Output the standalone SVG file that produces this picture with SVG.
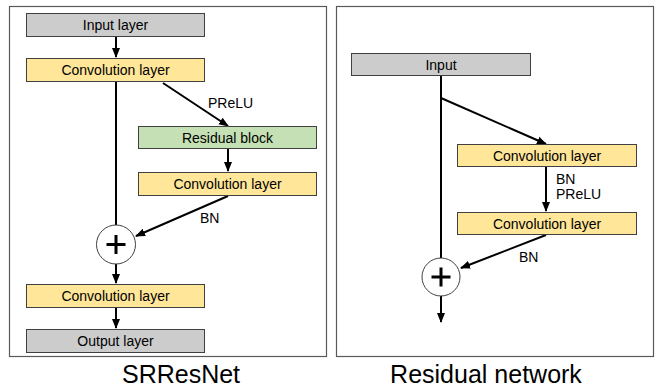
<svg xmlns="http://www.w3.org/2000/svg" width="660" height="387" viewBox="0 0 660 387">
<defs>
<marker id="ah" viewBox="0 0 10 10" refX="9" refY="5" markerWidth="5" markerHeight="5" orient="auto">
<path d="M0,1 L10,5 L0,9 z" fill="#000"/>
</marker>
<style>
.panel{fill:#fff;stroke:#595959;stroke-width:1.2}
.box{stroke:#404040;stroke-width:1}
.grey{fill:#cccccc}
.yellow{fill:#ffe699}
.green{fill:#c5e0b4}
.lbl{font-family:"Liberation Sans",Arial,sans-serif;font-size:14px;fill:#000;text-anchor:middle}
.ann{font-family:"Liberation Sans",Arial,sans-serif;font-size:14px;fill:#000}
.title{font-family:"Liberation Sans",Arial,sans-serif;font-size:25px;fill:#000;text-anchor:middle}
.ln{stroke:#000;stroke-width:2;fill:none}
.circ{fill:#fff;stroke:#404040;stroke-width:1}
.plus{stroke:#000;stroke-width:3}
</style>
</defs>
<rect width="660" height="387" fill="#fff"/>
<rect class="panel" x="9.5" y="6.5" width="317" height="350"/>
<rect class="panel" x="336.5" y="6.5" width="317" height="350"/>

<g id="connectors">
<line class="ln" x1="116" y1="37" x2="116" y2="57" marker-end="url(#ah)"/>
<line class="ln" x1="116" y1="82" x2="116" y2="225"/>
<line class="ln" x1="163" y1="83" x2="228" y2="126" marker-end="url(#ah)"/>
<line class="ln" x1="228" y1="149" x2="228" y2="171" marker-end="url(#ah)"/>
<line class="ln" x1="228" y1="196" x2="136" y2="236" marker-end="url(#ah)"/>
<line class="ln" x1="116" y1="264" x2="116" y2="283" marker-end="url(#ah)"/>
<line class="ln" x1="116" y1="308" x2="116" y2="328" marker-end="url(#ah)"/>

<line class="ln" x1="441" y1="76" x2="441" y2="258"/>
<line class="ln" x1="441" y1="98" x2="546" y2="144" marker-end="url(#ah)"/>
<line class="ln" x1="546" y1="167" x2="546" y2="211" marker-end="url(#ah)"/>
<line class="ln" x1="546" y1="235" x2="461" y2="268" marker-end="url(#ah)"/>
<line class="ln" x1="441" y1="296" x2="441" y2="322" marker-end="url(#ah)"/>
</g>

<g id="input-layer"><rect class="box grey" x="26.5" y="13.5" width="178" height="23"/><text class="lbl" x="115.5" y="30">Input layer</text></g>
<g id="conv1"><rect class="box yellow" x="26.5" y="58.5" width="178" height="23"/><text class="lbl" x="115.5" y="75">Convolution layer</text></g>
<g id="residual-block"><rect class="box green" x="138.5" y="126.5" width="178" height="22"/><text class="lbl" x="227.5" y="142.5">Residual block</text></g>
<g id="conv2"><rect class="box yellow" x="138.5" y="172.5" width="178" height="23"/><text class="lbl" x="227.5" y="189">Convolution layer</text></g>
<g id="sum1"><circle class="circ" cx="116" cy="244.5" r="19.5"/><line class="plus" x1="106.5" y1="244.5" x2="125.5" y2="244.5"/><line class="plus" x1="116" y1="235" x2="116" y2="254"/></g>
<g id="conv3"><rect class="box yellow" x="26.5" y="284.5" width="178" height="23"/><text class="lbl" x="115.5" y="301">Convolution layer</text></g>
<g id="output-layer"><rect class="box grey" x="26.5" y="329.5" width="178" height="23"/><text class="lbl" x="115.5" y="346">Output layer</text></g>
<text class="ann" x="208" y="108">PReLU</text>
<text class="ann" x="200" y="223">BN</text>
<text class="title" x="181" y="383">SRResNet</text>

<g id="input"><rect class="box grey" x="351.5" y="53.5" width="179" height="22"/><text class="lbl" x="441" y="70">Input</text></g>
<g id="rconv1"><rect class="box yellow" x="457.5" y="144.5" width="179" height="22"/><text class="lbl" x="547" y="161">Convolution layer</text></g>
<g id="rconv2"><rect class="box yellow" x="457.5" y="212.5" width="179" height="22"/><text class="lbl" x="547" y="229">Convolution layer</text></g>
<g id="sum2"><circle class="circ" cx="441" cy="277" r="19"/><line class="plus" x1="431.5" y1="277" x2="450.5" y2="277"/><line class="plus" x1="441" y1="267.5" x2="441" y2="286.5"/></g>
<text class="ann" x="556" y="184">BN</text>
<text class="ann" x="556" y="199">PReLU</text>
<text class="ann" x="519" y="262">BN</text>
<text class="title" x="486" y="383">Residual network</text>
</svg>
